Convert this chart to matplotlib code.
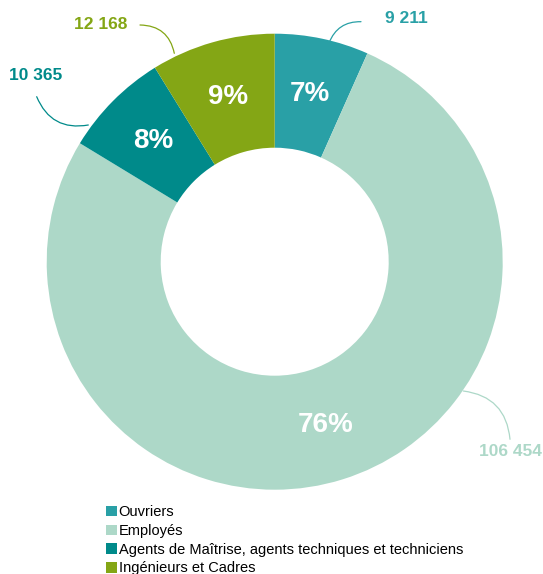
import matplotlib
matplotlib.use('Agg')
import matplotlib.pyplot as plt
from matplotlib.patches import Patch
import numpy as np

plt.rcParams['font.family'] = ['Liberation Sans', 'DejaVu Sans']

# data
categories = ['Ouvriers', 'Employés',
              'Agents de Maîtrise, agents techniques et techniciens',
              'Ingénieurs et Cadres']
effectifs = [9211, 106454, 10365, 12168]
value_labels = ['9 211', '106 454', '10 365', '12 168']
pct_labels = ['7%', '76%', '8%', '9%']
colors = ['#29A0A6', '#ADD8C8', '#008A8A', '#84A615']

W, H = 543, 574
fig = plt.figure(figsize=(W / 100, H / 100), dpi=100)

# pie placed in pixels: centre (274.7, 261.7), radius 228
cx, cy, r = 274.7, 261.7, 228
ax = fig.add_axes([(cx - r) / W, (H - cy - r) / H, 2 * r / W, 2 * r / H])

wedges, texts = ax.pie(effectifs, colors=colors, startangle=90, counterclock=False,
                       radius=1, wedgeprops=dict(width=0.5, linewidth=0))
ax.set_xlim(-1, 1)
ax.set_ylim(-1, 1)
ax.set_aspect('equal')
ax.axis('off')

for w, pct in zip(wedges, pct_labels):
    mid = np.deg2rad((w.theta1 + w.theta2) / 2)
    ax.text(0.75 * np.cos(mid), 0.75 * np.sin(mid), pct, ha='center', va='center',
            color='white', fontsize=20, fontweight='bold')


def px(x, y):
    return ((x - cx) / r, (cy - y) / r)


# outside value labels with curved leader lines (pixel layout)
label_pos = [(406, 19), (510, 451.7), (36, 76), (100.7, 24.3)]
line_start = [(329, 43), (463.3, 391), (88.3, 125), (174.3, 53.3)]
line_end = [(361, 21.7), (510, 439.3), (36.7, 96.7), (140, 25)]
rads = [-0.35, -0.4, -0.4, 0.4]

for i, txt in enumerate(value_labels):
    ax.text(*px(*label_pos[i]), txt, ha='center', va='center', color=colors[i],
            fontsize=12.5, fontweight='bold', clip_on=False)
    ax.annotate('', xy=px(*line_end[i]), xytext=px(*line_start[i]),
                arrowprops=dict(arrowstyle='-', color=colors[i], lw=0.9,
                                shrinkA=0, shrinkB=0,
                                connectionstyle=f'arc3,rad={rads[i]}'),
                annotation_clip=False)

handles = [Patch(facecolor=c, edgecolor='none') for c in colors]
fig.legend(handles, categories, loc='upper left',
           bbox_to_anchor=(106 / W, 1 - 505 / H), frameon=False,
           fontsize=10.5, handlelength=0.72, handleheight=0.72,
           handletextpad=0.15, labelspacing=0.33, borderpad=0, borderaxespad=0)

fig.savefig('out.png', dpi=100)
